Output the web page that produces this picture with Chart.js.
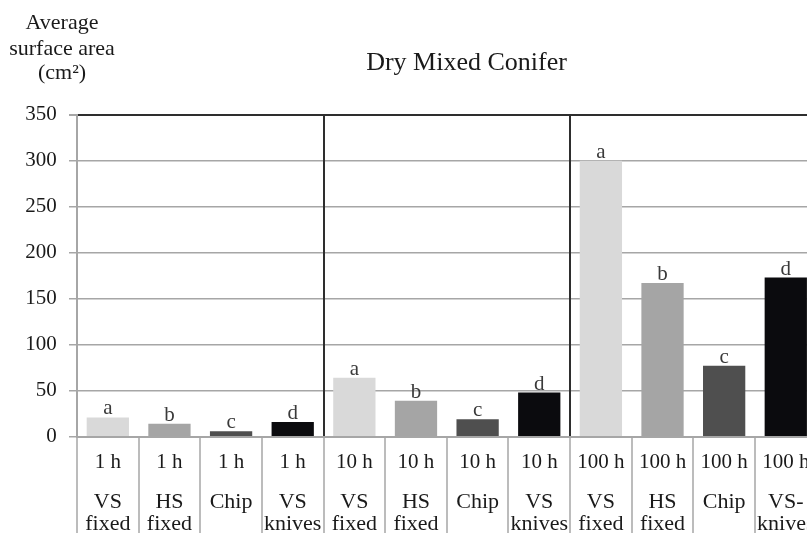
<!DOCTYPE html>
<html>
<head>
<meta charset="utf-8">
<script src="https://cdn.jsdelivr.net/npm/chart.js@4.4.1/dist/chart.umd.min.js"></script>
<style>
  html, body { margin: 0; padding: 0; background: #fff; overflow: hidden; width: 807px; height: 533px; }
  #wrap { width: 933px; height: 533px; }
</style>
</head>
<body>
<div id="wrap"><canvas id="c" width="933" height="533"></canvas></div>
<script>
// Fuel size class (timelag) and chipping method for each bar
const timeLabels = ["1 h", "1 h", "1 h", "1 h", "10 h", "10 h", "10 h", "10 h", "100 h", "100 h", "100 h", "100 h"];
const methodLabels = [
  ["VS", "fixed"], ["HS", "fixed"], ["Chip"], ["VS", "knives"],
  ["VS", "fixed"], ["HS", "fixed"], ["Chip"], ["VS", "knives"],
  ["VS", "fixed"], ["HS", "fixed"], ["Chip"], ["VS-", "knives"]
];
// Average surface area (cm²)
const surfaceArea = [21, 14, 6, 16, 64, 39, 19, 48, 300, 167, 77, 173];
// Significance letters shown above the bars
const sigLetters = ["a", "b", "c", "d", "a", "b", "c", "d", "a", "b", "c", "d"];
const yTickValues = [0, 50, 100, 150, 200, 250, 300, 350];
const yTitleLines = ["Average", "surface area", "(cm\u00B2)"];
const chartTitle = "Dry Mixed Conifer";

const methodColors = ["#d9d9d9", "#a5a5a5", "#4f4f4f", "#0b0b0e"];
const SERIF = "'Liberation Serif', 'Times New Roman', serif";
const GRID = "#a6a6a6";

Chart.defaults.font.family = SERIF;
Chart.defaults.color = "#1a1a1a";

// Letters drawn just above each bar
const letterPlugin = {
  id: "sigLetters",
  afterDatasetsDraw(chart) {
    const ctx = chart.ctx;
    const meta = chart.getDatasetMeta(0);
    ctx.save();
    ctx.font = "21px " + SERIF;
    ctx.fillStyle = "#3a3a3a";
    ctx.textAlign = "center";
    ctx.textBaseline = "alphabetic";
    meta.data.forEach((bar, i) => {
      ctx.fillText(sigLetters[i], bar.x, bar.y - 3);
    });
    ctx.restore();
  }
};

// Horizontal, stacked y-axis caption in the top-left corner
const yCaptionPlugin = {
  id: "yCaption",
  afterDraw(chart) {
    const ctx = chart.ctx;
    const cx = chart.chartArea.left - 15;
    const baselines = [29.3, 55, 79];
    ctx.save();
    ctx.font = "22px " + SERIF;
    ctx.fillStyle = "#1a1a1a";
    ctx.textAlign = "center";
    ctx.textBaseline = "alphabetic";
    yTitleLines.forEach((t, i) => ctx.fillText(t, cx, baselines[i]));
    ctx.restore();
  }
};

new Chart(document.getElementById("c"), {
  type: "bar",
  data: {
    labels: timeLabels,
    datasets: [{
      data: surfaceArea,
      backgroundColor: surfaceArea.map((_, i) => methodColors[i % 4]),
      borderWidth: 0,
      categoryPercentage: 1,
      barPercentage: 0.686
    }]
  },
  options: {
    responsive: false,
    animation: false,
    devicePixelRatio: 1,
    layout: { padding: 0 },
    plugins: {
      legend: { display: false },
      tooltip: { enabled: false },
      title: {
        display: true,
        text: chartTitle,
        color: "#1a1a1a",
        font: { family: SERIF, size: 26, weight: "normal", lineHeight: 1.2 },
        padding: { top: 47.3, bottom: 36.2 }
      }
    },
    scales: {
      y: {
        position: "left",
        min: 0,
        max: 350,
        afterBuildTicks(scale) { scale.ticks = yTickValues.map(v => ({ value: v })); },
        afterFit(scale) { scale.width = 77; },
        ticks: { font: { size: 21 }, color: "#1a1a1a", padding: 12.3 },
        grid: {
          color: c => (c.tick && c.tick.value === 350 ? "#2e2e2e" : GRID),
          lineWidth: c => (c.tick && c.tick.value === 350 ? 2 : 1.5),
          tickColor: GRID,
          tickLength: 8
        },
        border: { display: true, color: GRID, width: 2 }
      },
      yPad: {
        position: "right",
        display: true,
        afterFit(scale) { scale.width = 116.4; },
        ticks: { display: false },
        grid: { display: false, drawTicks: false },
        border: { display: false }
      },
      x: {
        type: "category",
        position: "bottom",
        offset: true,
        afterFit(scale) { scale.height = 40; },
        ticks: {
          font: { size: 21, lineHeight: 1.2 },
          color: "#1a1a1a",
          maxRotation: 0,
          autoSkip: false,
          padding: -82.7
        },
        grid: {
          offset: true,
          color: c => ((c.index === 4 || c.index === 8) ? "#2e2e2e" : "rgba(0,0,0,0)"),
          lineWidth: 2,
          tickColor: GRID,
          tickWidth: 1.5,
          tickLength: 96.3
        },
        border: { display: true, color: GRID, width: 2 }
      },
      x2: {
        type: "category",
        position: "bottom",
        labels: methodLabels,
        offset: true,
        afterFit(scale) { scale.height = 56.3; },
        ticks: {
          font: { size: 22, lineHeight: 1.02 },
          color: "#1a1a1a",
          maxRotation: 0,
          autoSkip: false,
          padding: 14
        },
        grid: { display: false, drawTicks: false },
        border: { display: false }
      }
    }
  },
  plugins: [letterPlugin, yCaptionPlugin]
});
</script>
</body>
</html>
